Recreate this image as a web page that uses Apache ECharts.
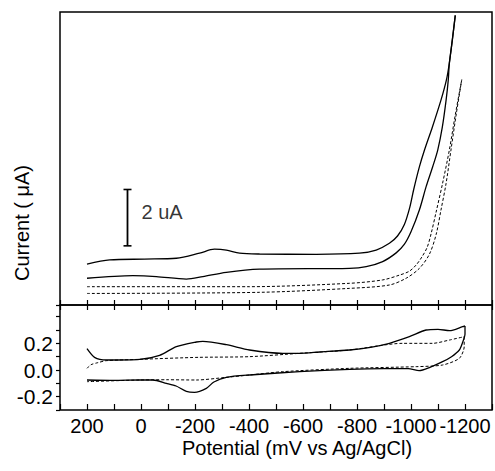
<!DOCTYPE html>
<html>
<head>
<meta charset="utf-8">
<script src="https://cdn.jsdelivr.net/npm/echarts@6/dist/echarts.min.js"></script>
<style>html,body{margin:0;padding:0;background:#fff}#c{width:495px;height:471px}</style>
</head>
<body>
<div id="c"></div>
<script>
// ---- Top panel (current, uA, arbitrary offset) ----
const topSolidOutX = [200,116,-13,-131,-217,-272,-316,-365,-439,-649,-809,-871,-920,-950,-975,-995,-1010,-1031,-1050,-1079,-1111,-1131,-1142,-1153,-1164];
const topSolidOutY = [1.45,1.60,1.63,1.66,1.84,1.98,1.95,1.84,1.81,1.80,1.84,1.95,2.19,2.45,2.85,3.45,4.10,4.90,5.50,6.31,7.27,7.98,8.58,9.40,10.28];
const topSolidBackX = [-1164,-1153,-1142,-1138,-1130,-1116,-1099,-1080,-1056,-1031,-1000,-975,-945,-895,-834,-772,-439,-316,-229,-168,-57,30,200];
const topSolidBackY = [10.28,9.40,8.58,7.98,7.27,6.31,5.50,4.90,4.20,3.37,2.60,2.15,1.85,1.54,1.36,1.30,1.27,1.16,1.01,0.92,1.01,1.04,0.95];
const topDashAX = [200,-402,-772,-895,-957,-994,-1019,-1040,-1060,-1075,-1093,-1117,-1142,-1164,-1188];
const topDashAY = [0.65,0.65,0.77,0.89,1.06,1.20,1.42,1.70,2.05,2.55,3.30,4.32,5.50,6.75,8.00];
const topDashBX = [200,-439,-772,-920,-982,-1031,-1068,-1093,-1111,-1130,-1148,-1168,-1188];
const topDashBY = [0.41,0.45,0.59,0.71,0.95,1.30,1.80,2.50,3.37,4.32,5.50,6.80,8.00];
const scaleBarX = [50, 50];
const scaleBarY = [2.1, 4.1];
const scaleBarText = '2 uA';

// ---- Bottom panel ----
const botSolidFwdX = [200,172,128,5,-69,-131,-205,-229,-316,-402,-525,-587,-661,-772,-850,-920,-994,-1056,-1100,-1143,-1191,-1200];
const botSolidFwdY = [0.16,0.095,0.075,0.08,0.11,0.175,0.21,0.215,0.19,0.15,0.125,0.125,0.135,0.15,0.17,0.2,0.25,0.3,0.305,0.295,0.325,0.33];
const botSolidBackX = [-1200,-1200,-1190,-1179,-1150,-1117,-1070,-1030,-990,-900,-772,-587,-402,-316,-270,-242,-198,-168,-130,-94,-44,5,100,200];
const botSolidBackY = [0.33,0.27,0.2,0.15,0.1,0.0625,0.02,-0.005,0.01,0.01,0.005,-0.0125,-0.0375,-0.055,-0.09,-0.1375,-0.1675,-0.16,-0.12,-0.1,-0.075,-0.075,-0.078,-0.075];
const botDashFwdX = [200,185,160,128,5,-215,-402,-587,-772,-969,-1080,-1143,-1197];
const botDashFwdY = [0.0125,0.04,0.055,0.07,0.08,0.095,0.1,0.125,0.15,0.2,0.2,0.225,0.25];
const botDashBackX = [-1197,-1197,-1179,-1117,-1019,-772,-525,-402,-316,-205,-94,5,200];
const botDashBackY = [0.25,0.175,0.0875,0.0375,0.025,0.0125,-0.0125,-0.0375,-0.055,-0.075,-0.073,-0.075,-0.0875];
const yTickLabels = ['-0.2', '0.0', '0.2'];

const xTitle = 'Potential (mV vs Ag/AgCl)';
const yTitle = 'Current ( μA)';

const zip = (xs, ys) => xs.map((x, i) => [x, ys[i]]);
const FONT = '"Liberation Sans", Arial, sans-serif';

const solid = { color: '#000', width: 1.3, type: 'solid' };
const dashed = { color: '#000', width: 1, type: [3, 2] };

function line(name, xs, ys, style, xi, yi, smooth) {
  return {
    name, type: 'line', xAxisIndex: xi, yAxisIndex: yi,
    data: zip(xs, ys), showSymbol: false, symbol: 'none',
    smooth: smooth, lineStyle: style, silent: true, z: 3
  };
}

const xBase = {
  type: 'value', min: -1300, max: 300, interval: 100, inverse: true,
  axisLine: { show: false, onZero: false }, splitLine: { show: false },
  axisTick: { show: true, inside: true, length: 5, lineStyle: { color: '#000', width: 1.2 } },
  axisLabel: { show: false }
};

const chart = echarts.init(document.getElementById('c'), null, { renderer: 'svg' });
chart.setOption({
  animation: false,
  backgroundColor: '#fff',
  grid: [
    { left: 60, top: 12, width: 432, height: 293, show: true, borderColor: '#000', borderWidth: 1.5, backgroundColor: 'transparent' },
    { left: 60, top: 305, width: 432, height: 105, show: true, borderColor: '#000', borderWidth: 1.5, backgroundColor: 'transparent' }
  ],
  xAxis: [
    Object.assign({}, xBase, { gridIndex: 0, position: 'bottom' }),
    Object.assign({}, xBase, {
      gridIndex: 1, position: 'bottom',
      axisTick: { show: true, inside: true, length: 6, lineStyle: { color: '#000', width: 1.2 } },
      axisLabel: {
        show: true, color: '#000', fontSize: 20, fontFamily: FONT, margin: 6,
        formatter: v => (Math.round(v) % 200 === 0 ? String(Math.round(v)) : '')
      }
    }),
    Object.assign({}, xBase, { gridIndex: 1, position: 'top' })
  ],
  yAxis: [
    { type: 'value', gridIndex: 0, min: 0, max: 10.4, axisLine: { show: false, onZero: false }, axisTick: { show: false }, axisLabel: { show: false }, splitLine: { show: false } },
    {
      type: 'value', gridIndex: 1, min: -0.3, max: 0.4875, interval: 0.1,
      axisLine: { show: false, onZero: false }, splitLine: { show: false },
      axisTick: { show: true, inside: false, length: 4, lineStyle: { color: '#000', width: 1.2 } },
      axisLabel: {
        color: '#000', fontSize: 21, fontFamily: FONT, margin: 7,
        formatter: v => { const s = (Math.round(v * 10) / 10).toFixed(1); return yTickLabels.indexOf(s) >= 0 ? s : ''; }
      }
    }
  ],
  graphic: [
    { type: 'text', x: 22, y: 223, rotation: Math.PI / 2,
      style: { text: yTitle, fontSize: 20, fontFamily: FONT, fill: '#000', align: 'center', verticalAlign: 'middle' } },
    { type: 'text', x: 297, y: 448,
      style: { text: xTitle, fontSize: 20, fontFamily: FONT, fill: '#000', align: 'center', verticalAlign: 'middle' } }
  ],
  series: [
    line('top solid out', topSolidOutX, topSolidOutY, solid, 0, 0, 0.3),
    line('top solid back', topSolidBackX, topSolidBackY, solid, 0, 0, 0.3),
    line('top dashed a', topDashAX, topDashAY, dashed, 0, 0, 0.3),
    line('top dashed b', topDashBX, topDashBY, dashed, 0, 0, 0.3),
    {
      name: 'scale bar', type: 'line', xAxisIndex: 0, yAxisIndex: 0,
      data: zip(scaleBarX, scaleBarY), symbol: 'rect', symbolSize: [8, 1.6], showSymbol: true,
      itemStyle: { color: '#000' }, lineStyle: { color: '#000', width: 1.8 }, silent: true
    },
    {
      name: 'scale label', type: 'scatter', xAxisIndex: 0, yAxisIndex: 0,
      data: [[scaleBarX[0], (scaleBarY[0] + scaleBarY[1]) / 2 + 0.2]], symbolSize: 0, silent: true,
      label: { show: true, position: 'right', distance: 14, formatter: scaleBarText, color: '#000', fontSize: 20, fontFamily: FONT }
    },
    line('bottom solid fwd', botSolidFwdX, botSolidFwdY, solid, 1, 1, 0.25),
    line('bottom solid back', botSolidBackX, botSolidBackY, solid, 1, 1, 0.25),
    line('bottom dashed fwd', botDashFwdX, botDashFwdY, dashed, 1, 1, 0.25),
    line('bottom dashed back', botDashBackX, botDashBackY, dashed, 1, 1, 0.25)
  ]
});
</script>
</body>
</html>
